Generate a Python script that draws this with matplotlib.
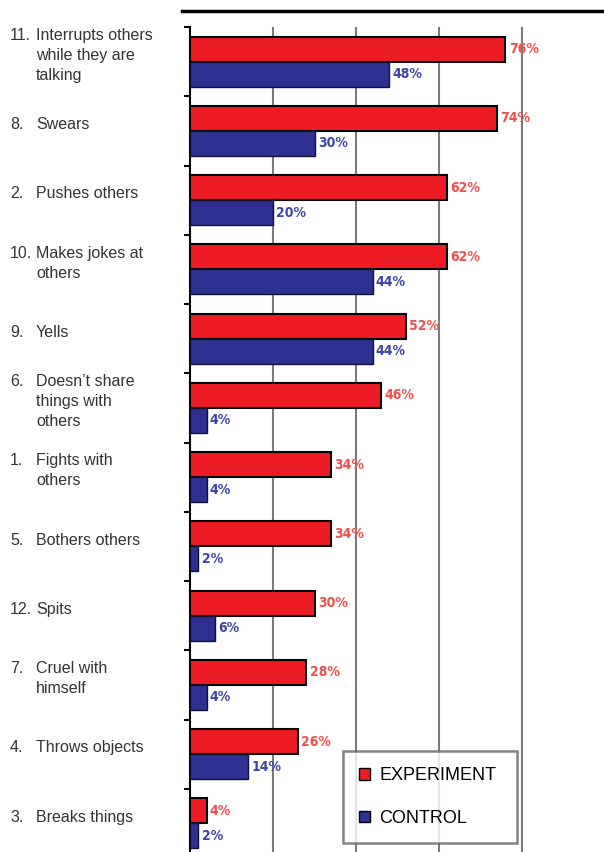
import numpy as np
import matplotlib
matplotlib.use("Agg")
import matplotlib.pyplot as plt
from matplotlib.lines import Line2D
from matplotlib.patches import Patch

# data, top to bottom
item_numbers = ["11.", "8.", "2.", "10.", "9.", "6.", "1.", "5.", "12.", "7.", "4.", "3."]
item_texts = [
    "Interrupts others\nwhile they are\ntalking",
    "Swears",
    "Pushes others",
    "Makes jokes at\nothers",
    "Yells",
    "Doesn\u2019t share\nthings with\nothers",
    "Fights with\nothers",
    "Bothers others",
    "Spits",
    "Cruel with\nhimself",
    "Throws objects",
    "Breaks things",
]
experiment = [76, 74, 62, 62, 52, 46, 34, 34, 30, 28, 26, 4]
control = [48, 30, 20, 44, 44, 4, 4, 2, 6, 4, 14, 2]
series_names = ["EXPERIMENT", "CONTROL"]

red = "#ED1C24"
blue = "#2E3192"
red_txt = "#F0504C"
blue_txt = "#3C45A6"

fig = plt.figure(figsize=(6.04, 8.52), dpi=100)
W, H = 604, 852
ax = fig.add_axes([190 / W, -6 / H, 415 / W, 831 / H])

n = len(experiment)
y = np.arange(n) + 0.5
bh = 0.36

ax.barh(y - bh / 2, experiment, height=bh, color=red, edgecolor="black", linewidth=1.5, zorder=3)
ax.barh(y + bh / 2, control, height=bh, color=blue, edgecolor="#111133", linewidth=1.0, zorder=3)

# bar value labels
for yi, v in zip(y, experiment):
    ax.text(v + 0.8, yi - bh / 2, f"{v}%", color=red_txt, fontsize=10, fontweight="bold",
            family="DejaVu Sans", fontstretch="condensed", va="center", ha="left", zorder=4)
for yi, v in zip(y, control):
    ax.text(v + 0.8, yi + bh / 2, f"{v}%", color=blue_txt, fontsize=10, fontweight="bold",
            family="DejaVu Sans", fontstretch="condensed", va="center", ha="left", zorder=4)

ax.set_xlim(0, 100)
ax.set_ylim(n, 0)
ax.set_xticks([20, 40, 60, 80])
ax.xaxis.grid(True, color="#7a7a7a", linewidth=1.5, zorder=0)
ax.tick_params(axis="x", length=0, labelbottom=False)
ax.set_yticks(np.arange(n + 1))
ax.tick_params(axis="y", direction="out", length=4, width=1.5, labelleft=False)
for s in ["top", "right", "bottom"]:
    ax.spines[s].set_visible(False)
ax.spines["left"].set_linewidth(1.5)

# category labels with hanging indent
txt_font = ["Liberation Sans", "DejaVu Sans"]
for yi, num, txt in zip(y, item_numbers, item_texts):
    yt = yi - 0.09
    k = txt.count("\n")
    num_block = num + "\n " * k  # same line count so the number sits on the first line
    for xpos, s in [(10, num_block), (36, txt)]:
        ax.annotate(s, xy=(xpos / W, yt), xycoords=("figure fraction", "data"),
                    fontsize=11.5, color="#333333", va="center", ha="left",
                    family=txt_font, linespacing=1.4, annotation_clip=False)

# top rule
fig.add_artist(Line2D([182 / W, 1.0], [1 - 11 / H, 1 - 11 / H], color="black", linewidth=2.5))

handles = [Patch(facecolor=red, edgecolor="black"), Patch(facecolor=blue, edgecolor="black")]
leg = ax.legend(handles, series_names, loc="lower left",
                bbox_to_anchor=(343 / W, 9 / H, 174 / W, 90 / H), bbox_transform=fig.transFigure,
                mode="expand", fancybox=False, frameon=True,
                prop={"family": txt_font, "size": 13},
                handlelength=0.6, handleheight=0.6, handletextpad=0.5,
                labelspacing=1.4, borderpad=0.9, borderaxespad=0)
leg.get_frame().set_edgecolor("#666666")
leg.get_frame().set_linewidth(1.8)
leg.set_zorder(5)

fig.savefig("out.png", dpi=100)
